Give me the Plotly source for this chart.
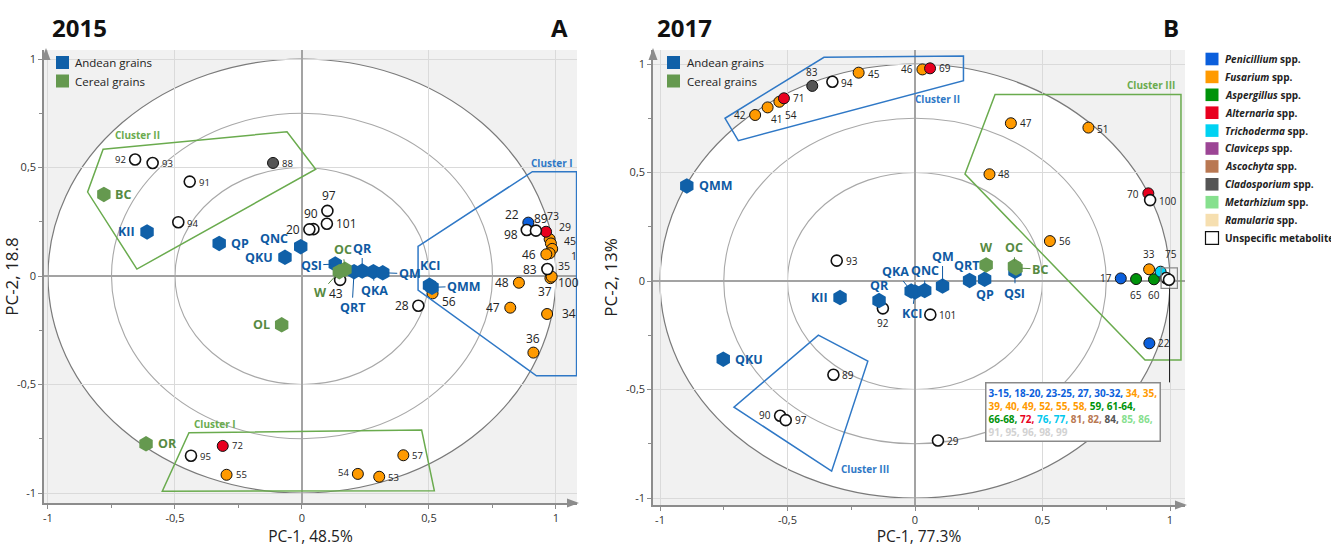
import plotly.graph_objects as go

W, H = 1331, 547
FONT = "Open Sans"

# ---------------- 2015 (panel A) ----------------
grain15_names = ["BC", "KII", "QP", "QNC", "QKU", "QSI", "QRT", "QR", "QKA", "QM",
                 "KCI", "QMM", "OC", "W", "OL", "OR"]
grain15_group = ["Cereal", "Andean", "Andean", "Andean", "Andean", "Andean", "Andean", "Andean",
                 "Andean", "Andean", "Andean", "Andean", "Cereal", "Cereal", "Cereal", "Cereal"]
grain15_pc1 = [-0.780, -0.610, -0.326, -0.005, -0.067, 0.131, 0.205, 0.237, 0.281, 0.318,
               0.502, 0.512, 0.169, 0.147, -0.080, -0.614]
grain15_pc2 = [0.376, 0.203, 0.150, 0.135, 0.086, 0.055, 0.020, 0.023, 0.020, 0.015,
               -0.043, -0.052, 0.031, 0.020, -0.225, -0.773]

met15_ids = ["92", "93", "91", "88", "94", "95", "72", "55", "54", "53", "57", "97", "90", "20",
             "101", "43", "28", "56", "22", "98", "89", "73", "29", "45", "1", "35", "46", "83",
             "37", "100", "48", "47", "34", "36"]
met15_genus = ["U", "U", "U", "Cladosporium", "U", "U", "Alternaria", "Fusarium", "Fusarium",
               "Fusarium", "Fusarium", "U", "U", "U", "U", "U", "U", "Fusarium", "Penicillium",
               "U", "U", "Alternaria", "Fusarium", "Fusarium", "Fusarium", "Fusarium", "Fusarium",
               "U", "Fusarium", "Fusarium", "Fusarium", "Fusarium", "Fusarium", "Fusarium"]
met15_pc1 = [-0.657, -0.588, -0.442, -0.114, -0.487, -0.437, -0.312, -0.297, 0.220, 0.304, 0.399,
             0.100, 0.045, 0.029, 0.098, 0.150, 0.458, 0.514, 0.891, 0.885, 0.921, 0.961, 0.975,
             0.980, 0.985, 0.975, 0.962, 0.966, 0.978, 0.983, 0.854, 0.820, 0.965, 0.911]
met15_pc2 = [0.537, 0.521, 0.435, 0.521, 0.248, -0.828, -0.783, -0.916, -0.912, -0.925, -0.826,
             0.300, 0.216, 0.215, 0.241, -0.018, -0.137, -0.080, 0.246, 0.212, 0.209, 0.204, 0.170,
             0.150, 0.125, 0.105, 0.100, 0.032, -0.010, -0.003, -0.031, -0.146, -0.175, -0.353]

# ---------------- 2017 (panel B) ----------------
grain17_names = ["QMM", "KII", "QR", "QKA", "KCI", "QNC", "QM", "QRT", "QP", "QSI", "QKU",
                 "W", "BC", "OC"]
grain17_group = ["Andean"] * 11 + ["Cereal"] * 3
grain17_pc1 = [-0.895, -0.294, -0.141, -0.015, 0.000, 0.038, 0.108, 0.214, 0.273, 0.392, -0.752,
               0.279, 0.396, 0.390]
grain17_pc2 = [0.438, -0.076, -0.090, -0.046, -0.050, -0.044, -0.023, 0.003, 0.008, 0.045, -0.360,
               0.074, 0.060, 0.068]

met17_ids = ["42", "41", "54", "71", "83", "94", "45", "46", "69", "47", "48", "51", "56", "70",
             "100", "93", "92", "101", "29", "89", "90", "97", "17", "65", "60", "33", "75", "22"]
met17_genus = ["Fusarium", "Fusarium", "Fusarium", "Alternaria", "Cladosporium", "U", "Fusarium",
               "Fusarium", "Alternaria", "Fusarium", "Fusarium", "Fusarium", "Fusarium",
               "Alternaria", "U", "U", "U", "U", "U", "U", "U", "U", "Penicillium", "Aspergillus",
               "Aspergillus", "Fusarium", "Trichoderma", "Penicillium"]
met17_pc1 = [-0.627, -0.578, -0.532, -0.514, -0.403, -0.324, -0.221, 0.029, 0.059, 0.376, 0.292,
             0.680, 0.529, 0.915, 0.922, -0.307, -0.126, 0.060, 0.090, -0.320, -0.529, -0.507,
             0.807, 0.867, 0.937, 0.918, 0.963, 0.919]
met17_pc2 = [0.765, 0.800, 0.826, 0.842, 0.899, 0.918, 0.960, 0.975, 0.980, 0.727, 0.492, 0.707,
             0.184, 0.404, 0.373, 0.094, -0.126, -0.155, -0.735, -0.432, -0.621, -0.641, 0.012,
             0.009, 0.008, 0.054, 0.043, -0.287]

# metabolites collapsed under the small box (listed in the call-out)
collapsed17_pc1 = [0.985, 0.996]
collapsed17_pc2 = [0.014, 0.006]

fungi_names = ["Penicillium", "Fusarium", "Aspergillus", "Alternaria", "Trichoderma", "Claviceps",
               "Ascochyta", "Cladosporium", "Metarhizium", "Ramularia"]

# ---------------- styles ----------------
genus_color = {
    "Penicillium": "#0b5fdc", "Fusarium": "#ff9a00", "Aspergillus": "#00930a",
    "Alternaria": "#e8001e", "Trichoderma": "#00d2f2", "Claviceps": "#9c4595",
    "Ascochyta": "#b97852", "Cladosporium": "#555555", "Metarhizium": "#86e08e",
    "Ramularia": "#f6dfb0", "U": "#ffffff",
}
group_fill = {"Andean": "#1060a8", "Cereal": "#65994f"}
group_text = {"Andean": "#0f5aa3", "Cereal": "#578a42"}
CL_GREEN = "#6aab4e"
CL_BLUE = "#2f78c6"

# metabolite number placement: id -> (xanchor, xshift, yshift[, font size])
L, R, C = "left", "right", "center"
lab_met15 = {
    "92": (R, -7, 0, 9.5), "93": (L, 7, -1, 9.5), "91": (L, 7, -1, 9.5), "88": (L, 7, -1, 9.5),
    "94": (L, 7, -1, 9.5), "95": (L, 7, -1, 9.5), "72": (L, 7, 0, 9.5), "55": (L, 7, 0, 9.5),
    "54": (R, -7, 1, 9.5), "53": (L, 7, -1, 9.5), "57": (L, 7, 0, 9.5),
    "97": (C, 2, 15), "90": (C, -2, 16), "20": (R, -7, 0), "101": (L, 7, 0), "43": (C, -4, -14),
    "28": (R, -7, 0), "56": (L, 7, -8), "22": (C, -16, 8), "98": (C, -16, -4), "89": (C, 5, 12),
    "73": (C, 7, 16, 10.5), "29": (C, 15, 12, 10.5), "45": (C, 19, 2, 10.5), "1": (C, 22, -7, 10.5),
    "35": (C, 14, -13, 10.5), "46": (R, -8, 0), "83": (R, -8, 0), "100": (L, 4, -6),
    "37": (C, -5, -13), "48": (R, -8, 0), "47": (R, -8, 0), "34": (L, 13, 0), "36": (C, 0, 14),
}
lab_met17 = {
    "42": (R, -7, 0), "41": (C, 9, -12), "54": (C, 12, -13), "71": (L, 7, 0), "83": (C, 0, 14),
    "94": (L, 7, -1), "45": (L, 7, -1), "46": (R, -7, 0), "69": (L, 7, 0), "47": (L, 7, 0),
    "48": (L, 7, 0), "51": (L, 7, -1), "56": (L, 7, 0), "70": (R, -7, -1), "100": (L, 7, -1),
    "93": (L, 7, 0), "92": (C, 0, -15), "101": (L, 7, 0), "29": (L, 7, 0), "89": (L, 7, 0),
    "90": (R, -7, 1), "97": (L, 7, 0), "17": (R, -7, 0), "65": (C, 0, -16), "60": (C, 0, -16),
    "33": (C, 0, 15), "75": (C, 10, 18), "22": (L, 7, 0),
}

# grain label placement: (kind, dx, dy, anchor)  kind: 'side' text offset, 'lead' leader line
lab15 = {
    "BC": ("side", 9, 0, "left"), "KII": ("side", -10, 0, "right"), "QP": ("side", 10, 0, "left"),
    "QNC": ("side", -11, 8, "right"), "QKU": ("side", -10, 0, "right"),
    "QSI": ("lead", -24, 1, None), "QRT": ("lead", -2, 36, None), "QR": ("lead", 0, -23, None),
    "QKA": ("lead", 1, 19, None), "QM": ("lead", 27, 1, None), "KCI": ("side", 0, 20, "center"),
    "QMM": ("lead", 32, -1, None), "OC": ("lead", -2, -20, None), "W": ("lead", -19, 21, None),
    "OL": ("side", -10, 0, "right"), "OR": ("side", 10, 0, "left"),
}
lab17 = {
    "QMM": ("side", 10, 0, "left"), "KII": ("side", -10, 0, "right"), "QR": ("side", 0, 15, "center"),
    "QKA": ("lead", -16, -20, None), "KCI": ("lead", -3, 22, None), "QNC": ("lead", 0, -20, None),
    "QM": ("lead", 0, -30, None), "QRT": ("side", -3, 15, "center"), "QP": ("side", 0, -15, "center"),
    "QSI": ("lead", 0, 22, None), "QKU": ("side", 10, 0, "left"), "W": ("side", 0, 17, "center"),
    "BC": ("lead", 24, 1, None), "OC": ("lead", 0, -19, None),
}

# cluster outlines (PC-1, PC-2 vertices)
clusters15 = [
    ([-0.783, -0.059, 0.054, -0.650, -0.844], [0.584, 0.665, 0.492, 0.032, 0.387], CL_GREEN),
    ([-0.445, 0.471, 0.521, -0.550], [-0.722, -0.710, -0.989, -0.992], CL_GREEN),
    ([0.457, 0.907, 1.081, 1.081, 0.923, 0.457], [0.137, 0.481, 0.481, -0.460, -0.460, -0.065], CL_BLUE),
]
clusters17 = [
    ([-0.745, -0.357, 0.190, 0.190, -0.693], [0.750, 1.031, 1.037, 0.923, 0.647], CL_BLUE),
    ([0.314, 1.043, 1.043, 0.902, 0.196], [0.860, 0.860, -0.364, -0.364, 0.493], CL_GREEN),
    ([-0.379, -0.185, -0.327, -0.710], [-0.249, -0.369, -0.876, -0.581], CL_BLUE),
]

fig = go.Figure()


def px_x(p):
    return p / W


def px_y(p):
    return 1 - p / H


def add_metabolites(xa, ya, ids, genus, pc1, pc2):
    order = ["Fusarium", "Penicillium", "Aspergillus", "Alternaria", "Trichoderma",
             "Cladosporium", "U"]
    for g in order:
        idx = [i for i, gg in enumerate(genus) if gg == g]
        if not idx:
            continue
        fig.add_trace(go.Scatter(
            x=[pc1[i] for i in idx], y=[pc2[i] for i in idx],
            xaxis=xa, yaxis=ya, mode="markers",
            text=[ids[i] for i in idx], hoverinfo="text",
            marker=dict(symbol="circle", size=11, color=genus_color[g],
                        line=dict(color="#111111", width=1.6 if g == "U" else 1.0)),
            showlegend=False,
        ))


def met_labels(xa, ya, ids, pc1, pc2, spec, default_size):
    out = []
    for i, x, y in zip(ids, pc1, pc2):
        s = spec[i]
        size = s[3] if len(s) > 3 else default_size
        out.append(dict(x=x, y=y, xref=xa, yref=ya, text=i, showarrow=False,
                        xanchor=s[0], yanchor="middle", xshift=s[1], yshift=s[2],
                        font=dict(family=FONT, size=size, color="#222222")))
    return out


def add_grains(xa, ya, names, group, pc1, pc2):
    for grp in ["Andean", "Cereal"]:
        idx = [i for i, g in enumerate(group) if g == grp]
        fig.add_trace(go.Scatter(
            x=[pc1[i] for i in idx], y=[pc2[i] for i in idx], xaxis=xa, yaxis=ya,
            mode="markers", text=[names[i] for i in idx], hoverinfo="text",
            marker=dict(symbol="hexagon", size=15.5, color=group_fill[grp], line=dict(width=0)),
            showlegend=False,
        ))


def grain_labels(xa, ya, names, group, pc1, pc2, spec):
    out = []
    for n, g, x, y in zip(names, group, pc1, pc2):
        kind, dx, dy, anchor = spec[n]
        col = group_text[g]
        base = dict(x=x, y=y, xref=xa, yref=ya, text="<b>%s</b>" % n,
                    font=dict(family=FONT, size=12.5, color=col))
        if kind == "side":
            base.update(showarrow=False, xanchor=anchor, yanchor="middle", xshift=dx, yshift=dy)
        else:
            base.update(showarrow=True, arrowhead=0, arrowwidth=1, arrowcolor=col,
                        ax=dx, ay=dy, standoff=5, startstandoff=0)
        out.append(base)
    return out


add_metabolites("x", "y", met15_ids, met15_genus, met15_pc1, met15_pc2)
add_metabolites("x2", "y2", met17_ids, met17_genus, met17_pc1, met17_pc2)
fig.add_trace(go.Scatter(
    x=collapsed17_pc1, y=collapsed17_pc2, xaxis="x2", yaxis="y2", mode="markers",
    marker=dict(symbol="circle", size=11, color="#ffffff", line=dict(color="#111111", width=1.6)),
    showlegend=False, hoverinfo="skip"))
add_grains("x", "y", grain15_names, grain15_group, grain15_pc1, grain15_pc2)
add_grains("x2", "y2", grain17_names, grain17_group, grain17_pc1, grain17_pc2)

# ---------------- shapes ----------------
shapes = []
for xr, yr in [("x", "y"), ("x2", "y2")]:
    shapes.append(dict(type="circle", xref=xr, yref=yr, x0=-1, x1=1, y0=-1, y1=1,
                       fillcolor="#ffffff", line=dict(color="#7a7a7a", width=1.2), layer="below"))
    for r in (0.75, 0.5):
        shapes.append(dict(type="circle", xref=xr, yref=yr, x0=-r, x1=r, y0=-r, y1=r,
                           line=dict(color="#a8a8a8", width=1.1), layer="below"))

for xr, yr, cl in [("x", "y", clusters15), ("x2", "y2", clusters17)]:
    for xs, ys, col in cl:
        path = "M " + " L ".join("%g,%g" % (a, b) for a, b in zip(xs, ys)) + " Z"
        shapes.append(dict(type="path", xref=xr, yref=yr, path=path,
                           line=dict(color=col, width=1.5), layer="above"))

# small box around the collapsed metabolites and its connector
shapes.append(dict(type="rect", xref="x2", yref="y2", x0=0.965, x1=1.029, y0=-0.034, y1=0.061,
                   line=dict(color="#8a8a8a", width=1.2), layer="above"))
shapes.append(dict(type="line", xref="x2", yref="y2", x0=0.998, x1=0.998, y0=-0.034, y1=-0.467,
                   line=dict(color="#222222", width=1), layer="above"))

# axis arrows
for (xl, yt, xr_, yb) in [(46, 50, 577, 503), (653, 50, 1185, 505)]:
    shapes.append(dict(type="path", xref="paper", yref="paper", fillcolor="#8c8c8c",
                       line=dict(width=0),
                       path="M %f,%f L %f,%f L %f,%f Z" % (px_x(xl), px_y(yt - 2), px_x(xl - 4.5),
                                                            px_y(yt + 10), px_x(xl + 4.5),
                                                            px_y(yt + 10))))
    shapes.append(dict(type="path", xref="paper", yref="paper", fillcolor="#8c8c8c",
                       line=dict(width=0),
                       path="M %f,%f L %f,%f L %f,%f Z" % (px_x(xr_ + 2), px_y(yb), px_x(xr_ - 10),
                                                            px_y(yb - 4.5), px_x(xr_ - 10),
                                                            px_y(yb + 4.5))))

annotations = []
annotations += met_labels("x", "y", met15_ids, met15_pc1, met15_pc2, lab_met15, 12)
annotations += met_labels("x2", "y2", met17_ids, met17_pc1, met17_pc2, lab_met17, 10)
annotations += grain_labels("x", "y", grain15_names, grain15_group, grain15_pc1, grain15_pc2, lab15)
annotations += grain_labels("x2", "y2", grain17_names, grain17_group, grain17_pc1, grain17_pc2, lab17)


# cluster captions
def cap(xr, yr, x, y, txt, col, anchor):
    return dict(x=x, y=y, xref=xr, yref=yr, text="<b>%s</b>" % txt, showarrow=False,
                xanchor=anchor, yanchor="middle", font=dict(family=FONT, size=10, color=col))


annotations += [
    cap("x", "y", -0.648, 0.650, "Cluster II", CL_GREEN, "center"),
    cap("x", "y", -0.343, -0.684, "Cluster I", CL_GREEN, "center"),
    cap("x", "y", 1.075, 0.520, "Cluster I", CL_BLUE, "right"),
    cap("x2", "y2", 0.183, 0.837, "Cluster II", CL_BLUE, "right"),
    cap("x2", "y2", 1.026, 0.903, "Cluster III", CL_GREEN, "right"),
    cap("x2", "y2", -0.300, -0.865, "Cluster III", CL_BLUE, "left"),
]

# call-out listing metabolites hidden in the small box
callout = (
    "<span style='color:#0b5fdc'>3-15, 18-20, 23-25, 27, 30-32,</span> "
    "<span style='color:#ff9a00'>34, 35,</span><br>"
    "<span style='color:#ff9a00'>39, 40, 49, 52, 55, 58,</span> "
    "<span style='color:#00930a'>59, 61-64,</span><br>"
    "<span style='color:#00930a'>66-68,</span> <span style='color:#e8001e'>72,</span> "
    "<span style='color:#00c8ee'>76, 77,</span> <span style='color:#b97852'>81, 82,</span> "
    "<span style='color:#555555'>84,</span> <span style='color:#86e08e'>85, 86,</span><br>"
    "<span style='color:#d2d2d2'>91, 95, 96, 98, 99</span>"
)
annotations.append(dict(x=0.2745, y=-0.467, xref="x2", yref="y2", xanchor="left", yanchor="top",
                        text="<b>" + callout + "</b>", showarrow=False, align="left",
                        bgcolor="#ffffff", bordercolor="#8a8a8a", borderwidth=1.5, borderpad=2,
                        font=dict(family=FONT, size=10)))

# panel titles
for txt, xp, anchor in [("2015", 50, "left"), ("A", 559, "center"), ("2017", 655, "left"),
                        ("B", 1171, "center")]:
    annotations.append(dict(x=px_x(xp), y=px_y(27), xref="paper", yref="paper", text="<b>%s</b>" % txt,
                            showarrow=False, xanchor=anchor, yanchor="middle",
                            font=dict(family=FONT, size=24, color="#111111")))

# grain-type keys inside each panel
for sx, tx in [(62.5, 73), (673.5, 685)]:
    for row, (lbl, grp) in enumerate([("Andean grains", "Andean"), ("Cereal grains", "Cereal")]):
        cy = 62.5 + row * 18.5
        shapes.append(dict(type="rect", xref="paper", yref="paper", x0=px_x(sx - 6.5),
                           x1=px_x(sx + 6.5), y0=px_y(cy + 6.5), y1=px_y(cy - 6.5),
                           fillcolor=group_fill[grp], line=dict(width=0)))
        annotations.append(dict(x=px_x(tx), y=px_y(cy), xref="paper", yref="paper", text=lbl,
                                showarrow=False, xanchor="left", yanchor="middle",
                                font=dict(family=FONT, size=11.5, color="#222222")))

# fungal genus key
for row, gname in enumerate(fungi_names + ["Unspecific"]):
    cy = 59 + row * 17.9
    if gname == "Unspecific":
        fill, line, lbl = "#ffffff", dict(color="#111111", width=1.2), "<b>Unspecific metabolite</b>"
    else:
        fill, line, lbl = genus_color[gname], dict(width=0), "<b><i>%s</i> spp.</b>" % gname
    shapes.append(dict(type="rect", xref="paper", yref="paper", x0=px_x(1205.5), x1=px_x(1218.5),
                       y0=px_y(cy + 6.3), y1=px_y(cy - 6.3), fillcolor=fill, line=line))
    annotations.append(dict(x=px_x(1222.5), y=px_y(cy), xref="paper", yref="paper", text=lbl,
                            showarrow=False, xanchor="left", yanchor="middle",
                            font=dict(family=FONT, size=10, color="#222222")))

tickvals = [-1, -0.5, 0, 0.5, 1]
ticktext = ["-1", "-0,5", "0", "0,5", "1"]
axis_common = dict(
    tickvals=tickvals, ticktext=ticktext, showgrid=True, gridcolor="#dadada", gridwidth=1,
    zeroline=True, zerolinecolor="#a3a3a3", zerolinewidth=1.5, showline=True,
    linecolor="#8c8c8c", linewidth=1.5, ticks="outside", ticklen=4, tickcolor="#8c8c8c",
    tickfont=dict(family=FONT, size=11, color="#333333"),
    minor=dict(dtick=0.25, tick0=0, ticks="outside", ticklen=3, tickcolor="#8c8c8c", showgrid=False),
    fixedrange=True,
)

fig.update_layout(
    width=W, height=H, margin=dict(l=0, r=0, t=0, b=0),
    paper_bgcolor="#ffffff", plot_bgcolor="#f1f1f1",
    font=dict(family=FONT, color="#222222"),
    showlegend=False,
    xaxis=dict(domain=[px_x(44), px_x(577)], range=[-1.0157, 1.0827], anchor="y",
               title=dict(text="PC-1, 48.5%", font=dict(family=FONT, size=15.5, color="#222222"),
                          standoff=0), **axis_common),
    yaxis=dict(domain=[px_y(503), px_y(50)], range=[-1.046, 1.0415], anchor="x",
               title=dict(text="PC-2, 18.8", font=dict(family=FONT, size=17, color="#222222"),
                          standoff=6), **axis_common),
    xaxis2=dict(domain=[px_x(653), px_x(1185)], range=[-1.0275, 1.0588], anchor="y2",
                title=dict(text="PC-1, 77.3%", font=dict(family=FONT, size=15.5, color="#222222"),
                           standoff=0), **axis_common),
    yaxis2=dict(domain=[px_y(505), px_y(50)], range=[-1.032, 1.0645], anchor="x2",
                title=dict(text="PC-2, 13%", font=dict(family=FONT, size=17, color="#222222"),
                           standoff=4), **axis_common),
    shapes=shapes, annotations=annotations,
)

fig.write_html("out.html")
